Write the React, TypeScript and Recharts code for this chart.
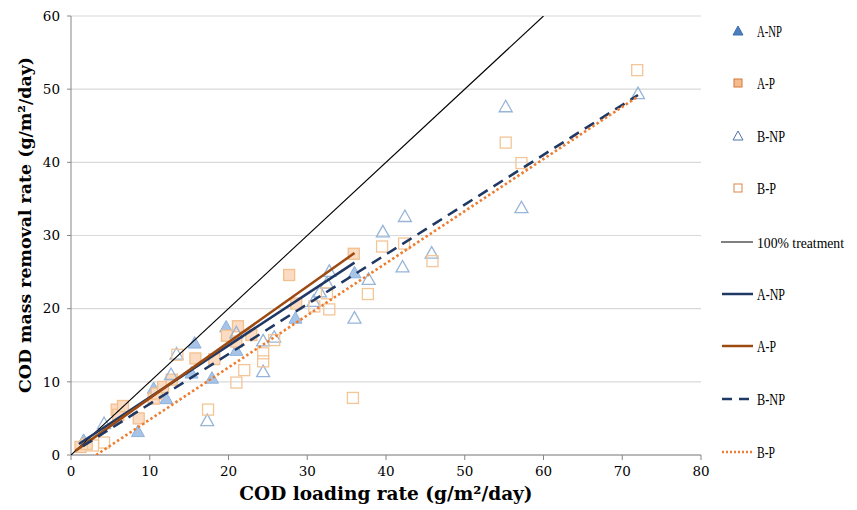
import React from "react";
import { ScatterChart, Scatter, XAxis, YAxis, CartesianGrid, Label } from "recharts";

// ---- data ----
const xTicks = [0, 10, 20, 30, 40, 50, 60, 70, 80];
const yTicks = [0, 10, 20, 30, 40, 50, 60];

const anpX = [1.6, 8.5, 10.5, 12.1, 15.3, 15.7, 17.9, 19.7, 21.0, 28.5, 36.0];
const anpY = [2.0, 3.2, 9.1, 7.7, 11.2, 15.3, 10.5, 17.5, 14.3, 18.7, 24.9];

const apX = [1.2, 2.0, 5.8, 6.0, 6.6, 8.6, 10.5, 10.9, 11.7, 12.8, 15.8, 18.2, 19.8, 21.0, 21.2, 22.9, 27.7, 28.6, 35.9];
const apY = [1.1, 1.5, 6.2, 5.5, 6.7, 5.0, 7.7, 8.4, 9.3, 10.3, 13.2, 13.1, 16.3, 15.5, 17.6, 16.4, 24.6, 20.7, 27.5];

const bnpX = [4.2, 12.7, 13.4, 17.3, 21.0, 24.4, 24.4, 25.8, 30.8, 31.6, 32.5, 32.8, 36.0, 37.8, 39.6, 42.1, 42.4, 45.8, 55.2, 57.2, 72.0];
const bnpY = [4.3, 11.0, 13.8, 4.7, 16.7, 15.6, 11.4, 16.1, 21.0, 22.3, 23.5, 25.1, 18.7, 24.0, 30.5, 25.7, 32.6, 27.6, 47.6, 33.8, 49.4];

const bpX = [2.8, 4.2, 13.5, 17.4, 21.0, 22.0, 24.4, 24.4, 25.8, 30.9, 32.5, 32.8, 35.8, 37.7, 39.5, 42.3, 45.9, 55.2, 57.2, 71.9];
const bpY = [1.3, 1.7, 13.7, 6.2, 9.9, 11.6, 13.9, 12.8, 15.7, 20.3, 22.1, 19.9, 7.8, 22.0, 28.5, 28.9, 26.5, 42.7, 39.9, 52.6];

// trend lines (start / end points)
const line100X = [0, 60];
const line100Y = [0, 60];
const trendAnpX = [1.0, 36.0];
const trendAnpY = [1.5, 26.3];
const trendApX = [0.6, 36.0];
const trendApY = [0.6, 27.6];
const trendBnpX = [1.5, 72.0];
const trendBnpY = [1.2, 49.2];
const trendBpX = [3.2, 72.0];
const trendBpY = [0.0, 49.0];

const toPts = (xs: number[], ys: number[]) => xs.map((x, i) => ({ x, y: ys[i] }));

const SERIF = "'DejaVu Serif', serif";
const LEGEND_FONT = "'Liberation Serif', serif";

const triFilled = (p: any) => {
  const { cx, cy } = p;
  return (
    <polygon
      points={`${cx},${cy - 6.5} ${cx - 6.5},${cy + 5} ${cx + 6.5},${cy + 5}`}
      fill="#a7c4e6"
      stroke="#8db2dc"
      strokeWidth={1}
    />
  );
};
const triOpen = (p: any) => {
  const { cx, cy } = p;
  return (
    <polygon
      points={`${cx},${cy - 6.5} ${cx - 6.5},${cy + 5} ${cx + 6.5},${cy + 5}`}
      fill="none"
      stroke="#97b5d8"
      strokeWidth={1.3}
    />
  );
};
const sqFilled = (p: any) => {
  const { cx, cy } = p;
  return <rect x={cx - 5.5} y={cy - 5.5} width={11} height={11} fill="#fbdcc2" stroke="#f2c08f" strokeWidth={1.3} />;
};
const sqOpen = (p: any) => {
  const { cx, cy } = p;
  return <rect x={cx - 5.5} y={cy - 5.5} width={11} height={11} fill="none" stroke="#f3c597" strokeWidth={1.3} />;
};
const noShape = () => <g />;

const XTitle = (props: any) => {
  const vb = props.viewBox || { x: 71, y: 455, width: 630, height: 45 };
  return (
    <text x={vb.x + vb.width / 2} y={vb.y + 45} textAnchor="middle" fontFamily={SERIF} fontWeight="bold" fontSize={18.5} fill="#000">
      COD loading rate (g/m²/day)
    </text>
  );
};
const YTitle = () => {
  const x = 31;
  const y = 225;
  return (
    <text x={x} y={y} transform={`rotate(-90 ${x} ${y})`} textAnchor="middle" fontFamily={SERIF} fontWeight="bold" fontSize={17.4} fill="#000">
      COD mass removal rate  (g/m²/day)
    </text>
  );
};

const legendY = [31, 83, 136, 188, 242, 294, 346, 399, 452];

const Legend = () => {
  const tx = 757;
  const t = (y: number, s: string, w: number, fs = 16.5) => (
    <text x={tx} y={y + 5.5} fontFamily={LEGEND_FONT} fontSize={fs} fill="#000" textLength={w} lengthAdjust="spacingAndGlyphs">
      {s}
    </text>
  );
  const mx = 738;
  return (
    <svg width={857} height={510} style={{ position: "absolute", left: 0, top: 0, pointerEvents: "none" }}>
      <polygon points={`${mx},${legendY[0] - 5} ${mx - 5},${legendY[0] + 4} ${mx + 5},${legendY[0] + 4}`} fill="#4a7ebf" stroke="#3f6fae" strokeWidth={1} />
      {t(legendY[0], "A-NP", 25)}
      <rect x={mx - 4} y={legendY[1] - 4} width={8} height={8} fill="#f6bb8d" stroke="#d07838" strokeWidth={1} />
      {t(legendY[1], "A-P", 18)}
      <polygon points={`${mx},${legendY[2] - 5} ${mx - 5},${legendY[2] + 4} ${mx + 5},${legendY[2] + 4}`} fill="#fff" stroke="#4d74a8" strokeWidth={1} />
      {t(legendY[2], "B-NP", 28)}
      <rect x={mx - 4} y={legendY[3] - 4} width={8} height={8} fill="#fff" stroke="#d9864a" strokeWidth={1} />
      {t(legendY[3], "B-P", 19)}
      <line x1={721} x2={753} y1={legendY[4]} y2={legendY[4]} stroke="#000" strokeWidth={1} />
      {t(legendY[4], "100% treatment", 87, 14)}
      <line x1={722} x2={753} y1={legendY[5]} y2={legendY[5]} stroke="#1f3864" strokeWidth={2.5} />
      {t(legendY[5], "A-NP", 28)}
      <line x1={722} x2={753} y1={legendY[6]} y2={legendY[6]} stroke="#9c4a12" strokeWidth={2.5} />
      {t(legendY[6], "A-P", 19)}
      <line x1={722} x2={753} y1={legendY[7]} y2={legendY[7]} stroke="#1f3864" strokeWidth={2.5} strokeDasharray="10 7" />
      {t(legendY[7], "B-NP", 28)}
      <line x1={722} x2={753} y1={legendY[8]} y2={legendY[8]} stroke="#ed7d31" strokeWidth={2.5} strokeDasharray="2 2" />
      {t(legendY[8], "B-P", 18)}
    </svg>
  );
};

const tickStyle = { fontFamily: SERIF, fontSize: 13.5, fill: "#000" };

export default function App() {
  return (
    <div style={{ position: "absolute", left: 0, top: 0, width: 857, height: 510, background: "#fff" }}>
      <ScatterChart width={857} height={510} margin={{ top: 16, right: 156, bottom: 10, left: 21 }}>
        <CartesianGrid vertical={false} stroke="#d9d9d9" strokeWidth={1.2} />
        <XAxis
          type="number"
          dataKey="x"
          domain={[0, 80]}
          ticks={xTicks}
          height={45}
          allowDataOverflow
          axisLine={{ stroke: "#868686" }}
          tickLine={{ stroke: "#868686" }}
          tickSize={5}
          tickMargin={6}
          tick={tickStyle}
          interval={0}
        >
          <Label content={<XTitle />} />
        </XAxis>
        <YAxis
          type="number"
          dataKey="y"
          domain={[0, 60]}
          ticks={yTicks}
          width={50}
          allowDataOverflow
          axisLine={{ stroke: "#868686" }}
          tickLine={{ stroke: "#868686" }}
          tickSize={4}
          tickMargin={7}
          tick={tickStyle}
          interval={0}
        >
          <Label content={<YTitle />} />
        </YAxis>

        <Scatter data={toPts(anpX, anpY)} shape={triFilled} isAnimationActive={false} />
        <Scatter data={toPts(apX, apY)} shape={sqFilled} isAnimationActive={false} />
        <Scatter data={toPts(bnpX, bnpY)} shape={triOpen} isAnimationActive={false} />
        <Scatter data={toPts(bpX, bpY)} shape={sqOpen} isAnimationActive={false} />

        <Scatter data={toPts(line100X, line100Y)} shape={noShape} line={{ stroke: "#000", strokeWidth: 1.1 }} lineType="joint" isAnimationActive={false} />
        <Scatter data={toPts(trendAnpX, trendAnpY)} shape={noShape} line={{ stroke: "#1f3864", strokeWidth: 2.6 }} lineType="joint" isAnimationActive={false} />
        <Scatter data={toPts(trendApX, trendApY)} shape={noShape} line={{ stroke: "#9c4a12", strokeWidth: 2.6 }} lineType="joint" isAnimationActive={false} />
        <Scatter data={toPts(trendBnpX, trendBnpY)} shape={noShape} line={{ stroke: "#1f3864", strokeWidth: 2.6, strokeDasharray: "11 7" }} lineType="joint" isAnimationActive={false} />
        <Scatter data={toPts(trendBpX, trendBpY)} shape={noShape} line={{ stroke: "#ed7d31", strokeWidth: 2.6, strokeDasharray: "2.5 2.5" }} lineType="joint" isAnimationActive={false} />
      </ScatterChart>
      <Legend />
    </div>
  );
}
